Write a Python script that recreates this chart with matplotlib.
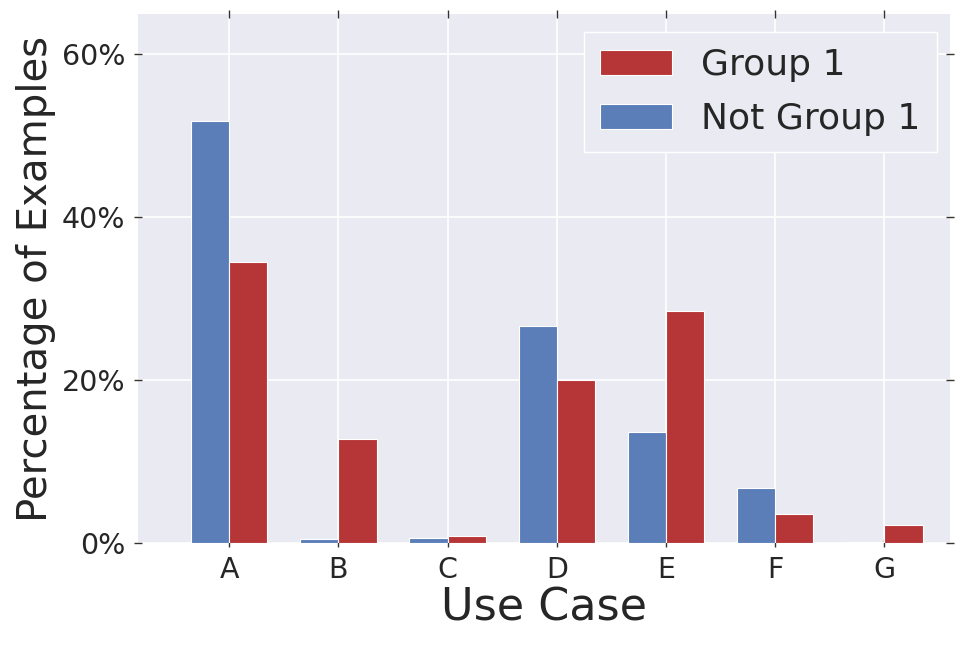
import matplotlib
matplotlib.use("Agg")
import matplotlib.pyplot as plt
import numpy as np
from matplotlib.ticker import FuncFormatter

categories = ["A", "B", "C", "D", "E", "F", "G"]
group1 = [34.5, 12.8, 0.8, 20.0, 28.5, 3.6, 2.25]
not_group1 = [51.8, 0.5, 0.65, 26.6, 13.6, 6.7, 0.1]

plt.rcParams['font.family'] = ['DejaVu Sans']
fig = plt.figure(figsize=(9.69, 6.46), dpi=100)
ax = fig.add_axes([138/969, 1-543/646, (950-138)/969, (543-14)/646])
ax.set_facecolor('#EAEAF2')
for s in ax.spines.values():
    s.set_visible(False)
ax.grid(True, color='white', linewidth=1.2)
ax.set_axisbelow(True)

x = np.arange(len(categories))
w = 0.35
blue = '#5B7EB8'
red = '#B63536'
b2 = ax.bar(x - w, not_group1, w, align='edge', color=blue, edgecolor='white', linewidth=0.8, label='Not Group 1')
b1 = ax.bar(x, group1, w, align='edge', color=red, edgecolor='white', linewidth=0.8, label='Group 1')

ax.set_xlim(-0.835, 6.6)
ax.set_ylim(0, 64.9)
ax.set_yticks([0, 20, 40, 60])
ax.yaxis.set_major_formatter(FuncFormatter(lambda v, p: f"{int(v)}%"))
ax.set_xticks(x)
ax.set_xticklabels(categories)
ax.tick_params(axis='both', which='both', direction='inout', length=6, width=1,
               color='#333333', labelsize=20.5, labelcolor='#262626',
               top=True, right=True, bottom=True, left=True, pad=6)
ax.set_xlabel('Use Case', fontsize=32, color='#262626', labelpad=2)
ax.set_ylabel('Percentage of Examples', fontsize=29, color='#262626', labelpad=4)

leg = ax.legend(handles=[b1, b2], loc='upper right', fontsize=26, frameon=True,
                facecolor='#EAEAF2', edgecolor='white', framealpha=1,
                borderpad=0.45, handlelength=2.0, handleheight=0.7, handletextpad=0.8,
                labelspacing=0.55, borderaxespad=0,
                bbox_to_anchor=(0.984, 0.966), fancybox=False)
for t in leg.get_texts():
    t.set_color('#262626')

fig.savefig('out.png', dpi=100, facecolor='white')
